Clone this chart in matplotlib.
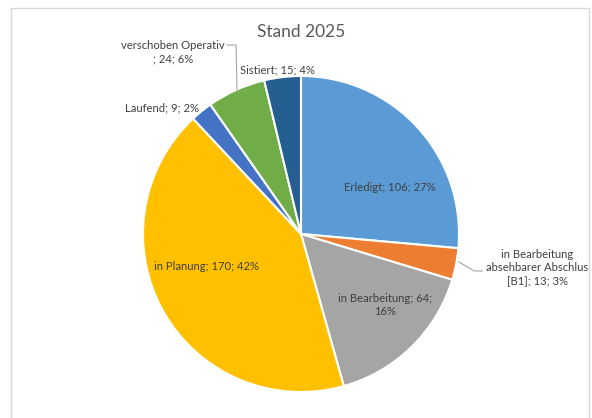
import matplotlib
matplotlib.use("Agg")
import matplotlib.pyplot as plt
from matplotlib.patches import Rectangle

labels = ["Erledigt", "in Bearbeitung\nabsehbarer Abschlus\n[B1]", "in Bearbeitung",
          "in Planung", "Laufend", "verschoben Operativ\n", "Sistiert"]
values = [106, 13, 64, 170, 9, 24, 15]
percents = [27, 3, 16, 42, 2, 6, 4]
colors = ["#5B9BD5", "#ED7D31", "#A5A5A5", "#FFC000", "#4472C4", "#70AD47", "#255E91"]

W, H = 592, 418
fig = plt.figure(figsize=(W / 100, H / 100), dpi=100)
plt.rcParams['font.family'] = ['Lato', 'DejaVu Sans']

# chart frame
fig.patches.append(Rectangle((11 / W, -0.05), (589 - 11) / W, (418 - 8) / H + 0.05,
                             transform=fig.transFigure, fill=False,
                             edgecolor="#D9D9D9", linewidth=1.0))

cx, cy, r = 301, 234, 158
ax = fig.add_axes([(cx - r) / W, (H - cy - r) / H, 2 * r / W, 2 * r / H])
ax.pie(values, colors=colors, startangle=90, counterclock=False,
       wedgeprops=dict(edgecolor="white", linewidth=1.5))
ax.set_xlim(-1, 1)
ax.set_ylim(-1, 1)
ax.set_aspect("equal")
ax.axis("off")

tc = "#404040"
fs = 8.1
pos = [(0.560, 0.297), (1.494, -0.215), (0.532, -0.449), (-0.601, -0.203),
       (-0.880, 0.797), (-0.810, 1.150), (-0.146, 1.038)]
for lbl, v, p, (x, y) in zip(labels, values, percents, pos):
    if lbl == "in Bearbeitung":
        t = f"{lbl}; {v};\n{p}%"
    else:
        t = f"{lbl}; {v}; {p}%"
    ax.text(x, y, t, ha="center", va="center", fontsize=fs, color=tc,
            linespacing=1.3, clip_on=False)

# leader lines
ax.plot([-0.468, -0.411, -0.405], [1.196, 1.196, 0.902], color="#A6A6A6", lw=0.8, clip_on=False)
ax.plot([1.146, 1.095, 1.0], [-0.234, -0.234, -0.177], color="#A6A6A6", lw=0.8, clip_on=False)

ax.text(0, 1.278, "Stand 2025", ha="center", va="center", fontsize=12.5, color="#595959", clip_on=False)

fig.savefig("out.png", dpi=100)
